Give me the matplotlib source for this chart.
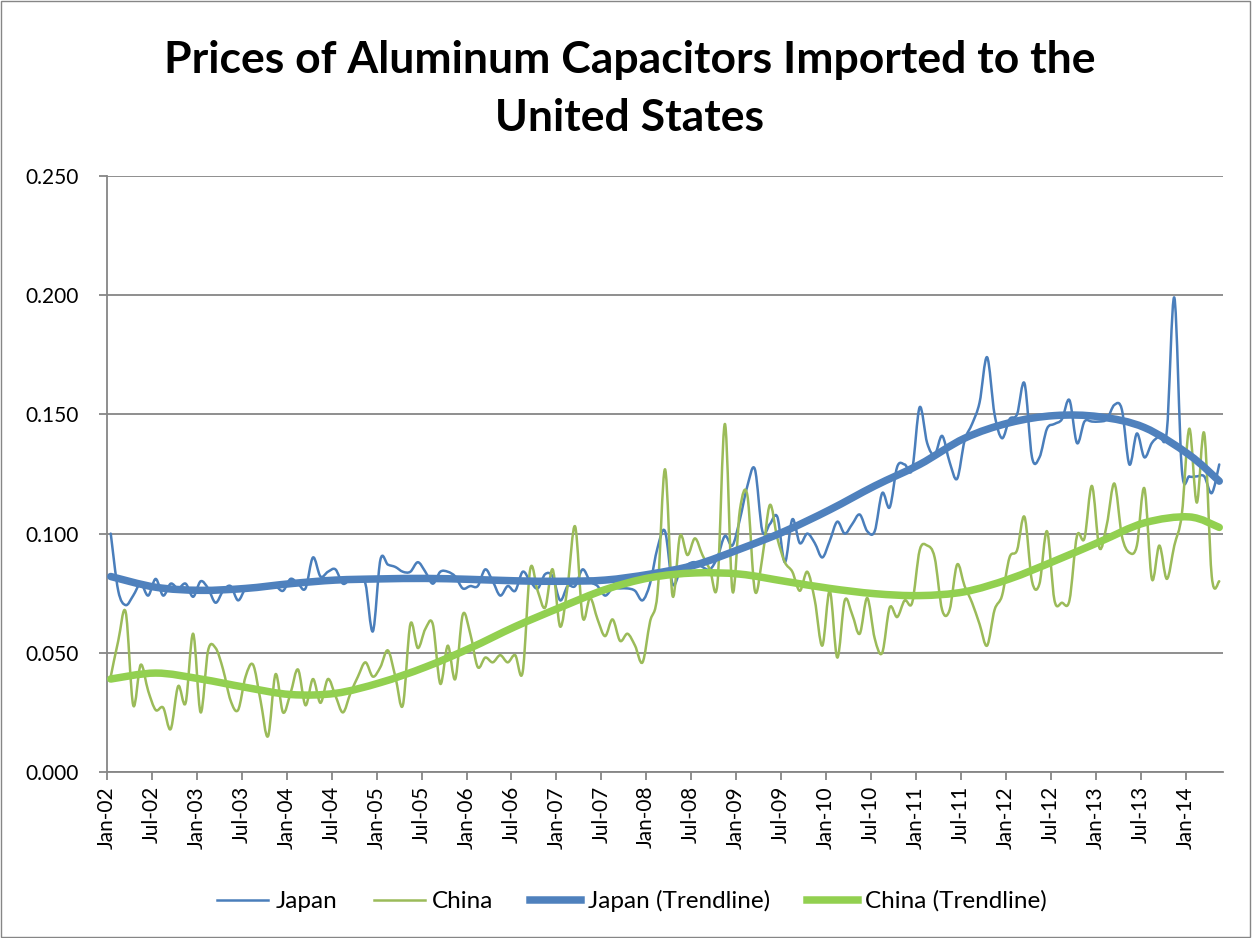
import numpy as np
import matplotlib
matplotlib.use("Agg")
import matplotlib.pyplot as plt
from matplotlib.path import Path
from matplotlib.patches import PathPatch, Rectangle
from matplotlib.lines import Line2D

plt.rcParams['font.family'] = ['Lato', 'DejaVu Sans']

# monthly prices, Jan-02 .. May-14
japan = [0.100, 0.076, 0.070, 0.074, 0.079, 0.074, 0.081, 0.074, 0.079, 0.077,
         0.079, 0.0735, 0.080, 0.077, 0.071, 0.076, 0.078, 0.072, 0.077, 0.078,
         0.078, 0.078, 0.078, 0.076, 0.081, 0.079, 0.077, 0.090, 0.082, 0.084,
         0.085, 0.079, 0.081, 0.081, 0.079, 0.059, 0.089, 0.087, 0.086, 0.084,
         0.084, 0.088, 0.084, 0.079, 0.084, 0.084, 0.082, 0.077, 0.078, 0.078,
         0.085, 0.080, 0.074, 0.078, 0.076, 0.084, 0.080, 0.077, 0.083, 0.082,
         0.072, 0.078, 0.078, 0.085, 0.080, 0.078, 0.074, 0.077, 0.077, 0.077,
         0.076, 0.072, 0.079, 0.094, 0.101, 0.079, 0.084, 0.087, 0.088, 0.086,
         0.085, 0.090, 0.099, 0.095, 0.106, 0.120, 0.127, 0.101, 0.104, 0.107,
         0.088, 0.106, 0.096, 0.100, 0.096, 0.090, 0.097, 0.105, 0.100, 0.104,
         0.108, 0.101, 0.101, 0.117, 0.111, 0.128, 0.129, 0.127, 0.153, 0.138,
         0.133, 0.141, 0.130, 0.123, 0.139, 0.146, 0.155, 0.174, 0.150, 0.140,
         0.148, 0.150, 0.163, 0.132, 0.132, 0.144, 0.146, 0.148, 0.156, 0.138,
         0.147, 0.147, 0.147, 0.148, 0.154, 0.152, 0.129, 0.142, 0.132, 0.138,
         0.141, 0.143, 0.199, 0.127, 0.124, 0.124, 0.124, 0.117, 0.129]

china = [0.040, 0.055, 0.067, 0.028, 0.045, 0.034, 0.026, 0.027, 0.018, 0.036,
         0.029, 0.058, 0.025, 0.051, 0.052, 0.043, 0.030, 0.026, 0.040, 0.045,
         0.030, 0.015, 0.041, 0.025, 0.033, 0.043, 0.028, 0.039, 0.029, 0.039,
         0.032, 0.025, 0.033, 0.040, 0.046, 0.040, 0.044, 0.051, 0.040, 0.028,
         0.062, 0.052, 0.060, 0.062, 0.037, 0.053, 0.039, 0.066, 0.058, 0.044,
         0.048, 0.046, 0.049, 0.046, 0.049, 0.042, 0.085, 0.076, 0.069, 0.085,
         0.061, 0.078, 0.103, 0.065, 0.073, 0.064, 0.057, 0.064, 0.055, 0.058,
         0.053, 0.046, 0.063, 0.075, 0.127, 0.074, 0.099, 0.091, 0.098, 0.091,
         0.085, 0.079, 0.146, 0.076, 0.110, 0.116, 0.076, 0.090, 0.112, 0.098,
         0.088, 0.084, 0.076, 0.084, 0.072, 0.053, 0.076, 0.048, 0.072, 0.066,
         0.058, 0.073, 0.056, 0.050, 0.069, 0.065, 0.072, 0.071, 0.093, 0.095,
         0.090, 0.068, 0.068, 0.087, 0.078, 0.071, 0.062, 0.053, 0.068, 0.074,
         0.090, 0.093, 0.107, 0.080, 0.079, 0.101, 0.072, 0.071, 0.072, 0.099,
         0.098, 0.120, 0.094, 0.104, 0.121, 0.099, 0.092, 0.095, 0.119, 0.081,
         0.095, 0.081, 0.095, 0.108, 0.144, 0.113, 0.142, 0.082, 0.080]

# trendline values read every 6 months (month index)
trend_month = [0, 6, 12, 18, 24, 30, 36, 42, 48, 54, 60, 66, 72, 78, 84, 90,
               96, 102, 108, 114, 120, 126, 132, 138, 144, 148]
japan_trend = [0.082, 0.0775, 0.0762, 0.077, 0.079, 0.0805, 0.081, 0.0812,
               0.0808, 0.0802, 0.080, 0.0805, 0.083, 0.0868, 0.0935, 0.101,
               0.110, 0.120, 0.129, 0.140, 0.1465, 0.1495, 0.149, 0.1445,
               0.133, 0.122]
china_trend = [0.039, 0.0415, 0.039, 0.0355, 0.0325, 0.033, 0.0375, 0.044,
               0.052, 0.061, 0.069, 0.0765, 0.0815, 0.0835, 0.083, 0.080,
               0.077, 0.0748, 0.074, 0.0756, 0.081, 0.0885, 0.0965, 0.1045,
               0.107, 0.1026]

tick_labels = ['Jan-02', 'Jul-02', 'Jan-03', 'Jul-03', 'Jan-04', 'Jul-04',
               'Jan-05', 'Jul-05', 'Jan-06', 'Jul-06', 'Jan-07', 'Jul-07',
               'Jan-08', 'Jul-08', 'Jan-09', 'Jul-09', 'Jan-10', 'Jul-10',
               'Jan-11', 'Jul-11', 'Jan-12', 'Jul-12', 'Jan-13', 'Jul-13',
               'Jan-14']

C_JP = '#4A7EBB'
C_CN = '#9BBB59'
C_JPT = '#4F81BD'
C_CNT = '#92D050'
GRID = '#868686'


def smooth_path(x, y):
    # Catmull-Rom style bezier, like Excel's smoothed line
    pts = np.column_stack([x, y]).astype(float)
    n = len(pts)
    verts = [pts[0]]
    codes = [Path.MOVETO]
    for k in range(n - 1):
        p0 = pts[k - 1] if k > 0 else pts[k]
        p1 = pts[k]
        p2 = pts[k + 1]
        p3 = pts[k + 2] if k + 2 < n else pts[k + 1]
        verts += [p1 + (p2 - p0) / 6, p2 - (p3 - p1) / 6, p2]
        codes += [Path.CURVE4] * 3
    return Path(verts, codes)


def draw_smooth(ax, x, y, color, lw, z):
    patch = PathPatch(smooth_path(x, y), fill=False, edgecolor=color, lw=lw,
                      capstyle='round', joinstyle='round', zorder=z)
    ax.add_patch(patch)


fig = plt.figure(figsize=(12.52, 9.38), dpi=100)
ax = fig.add_axes([107 / 1252, 1 - 772 / 938, (1223 - 107) / 1252, (772 - 176) / 938])

xm = np.arange(len(japan)) + 0.5
xt = np.array(trend_month) + 0.5

draw_smooth(ax, xm, japan, C_JP, 1.8, 3)
draw_smooth(ax, xm, china, C_CN, 1.8, 4)
draw_smooth(ax, xt, japan_trend, C_JPT, 5.4, 5)
draw_smooth(ax, xt, china_trend, C_CNT, 5.4, 6)

ax.set_xlim(0, 149)
ax.set_ylim(0, 0.25)
ax.set_yticks(np.arange(0, 0.2501, 0.05))
ax.set_yticklabels(['%.3f' % v for v in np.arange(0, 0.2501, 0.05)], fontsize=15)
ax.set_xticks(np.arange(0, 145, 6))
ax.set_xticklabels(tick_labels, rotation=90, fontsize=15)
ax.yaxis.grid(True, color=GRID, lw=1.3)
ax.set_axisbelow(True)
for s in ['top', 'right']:
    ax.spines[s].set_visible(False)
for s in ['left', 'bottom']:
    ax.spines[s].set_color(GRID)
    ax.spines[s].set_linewidth(1.3)
ax.tick_params(axis='both', color=GRID, width=1.3, length=6, pad=4)
ax.tick_params(axis='y', pad=14)

fig.text(0.503, 1 - 40 / 938,
         'Prices of Aluminum Capacitors Imported to the\nUnited States',
         ha='center', va='top', fontsize=32, fontweight='bold', linespacing=1.55)

handles = [Line2D([], [], color=C_JP, lw=1.8),
           Line2D([], [], color=C_CN, lw=1.8),
           Line2D([], [], color=C_JPT, lw=5.4),
           Line2D([], [], color=C_CNT, lw=5.4)]
fig.legend(handles, ['Japan', 'China', 'Japan (Trendline)', 'China (Trendline)'],
           loc='center', bbox_to_anchor=(0.505, 1 - 901 / 938), ncol=4, frameon=False,
           fontsize=17.5, handlelength=2.1, columnspacing=1.5, handletextpad=0.3)

fig.add_artist(Rectangle((0.0008, 0.001), 0.998, 0.998, transform=fig.transFigure,
                         fill=False, edgecolor=GRID, lw=1))

fig.savefig('out.png', dpi=100)
